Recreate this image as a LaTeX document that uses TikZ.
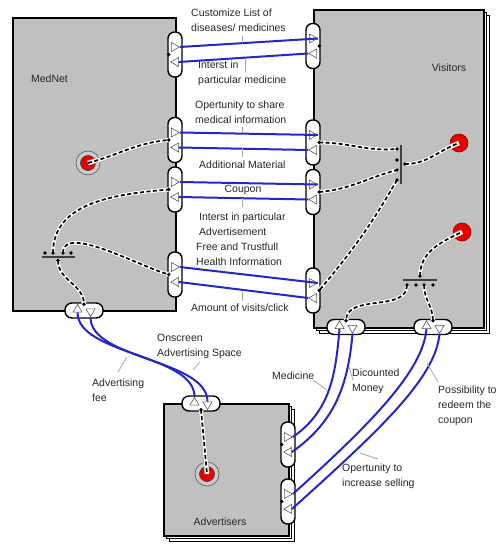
\documentclass[tikz,border=0pt]{standalone}
\usepackage{fontspec}
\setmainfont{Liberation Sans}
\usetikzlibrary{positioning,shapes.geometric,calc}
\definecolor{actorgray}{HTML}{C0C0C0}
\definecolor{msgblue}{HTML}{2626C8}
\definecolor{procred}{HTML}{E80000}
\definecolor{leadgray}{HTML}{A8A8A8}
\tikzset{
  actor/.style={draw, line width=1.6pt, fill=actorgray, anchor=north west, inner sep=0pt},
  sheet/.style={draw, line width=0.8pt, fill=white, anchor=north west, inner sep=0pt},
  vport/.style={draw, line width=1.4pt, fill=white, rounded corners=6.5pt, minimum width=14pt, minimum height=45pt, inner sep=0pt},
  hport/.style={draw, line width=1.4pt, fill=white, rounded corners=7pt, minimum width=38pt, minimum height=15pt, inner sep=0pt},
  tri/.style={regular polygon, regular polygon sides=3, draw=black!65, line width=0.6pt, minimum size=10.5pt, inner sep=0pt},
  triR/.style={tri, rotate=-90},
  triL/.style={tri, rotate=90},
  triU/.style={tri},
  triD/.style={tri, rotate=180},
  pdot/.style={circle, fill=black, inner sep=0pt, minimum size=3.8pt},
  msg/.style={draw=msgblue, line width=2pt},
  link/.style={preaction={draw=black!30, line width=5pt}, preaction={draw=white, line width=3.8pt}, draw=black, line width=1.7pt, dash pattern=on 4pt off 2.5pt},
  lead/.style={draw=leadgray, line width=0.8pt},
  lbl/.style={font=\fontsize{10.5}{15}\selectfont, text=black!85, inner sep=0pt, align=left, anchor=west},
  ring/.style={circle, draw=black!60, fill=black!20, line width=0.7pt, minimum size=24pt, inner sep=0pt},
  core/.style={circle, draw=black!70, fill=procred, line width=0.8pt, minimum size=15pt, inner sep=0pt},
  vcore/.style={circle, draw=procred!60!black, fill=procred, line width=0.6pt, minimum size=18pt, inner sep=0pt},
  junction/.style={draw=black!75, line width=1.2pt}
}

\begin{document}
\begin{tikzpicture}[x=1pt, y=1pt]
\useasboundingbox (0,0) rectangle (497,-548);
\node[actor, minimum width=163pt, minimum height=293pt] (mednet) at (12,-17) {};
\node[sheet, minimum width=170pt, minimum height=318pt] (visitors2) at (319,-15) {};
\node[sheet, minimum width=170pt, minimum height=318pt] (visitors1) at (316,-12) {};
\node[actor, minimum width=170pt, minimum height=318pt] (visitors) at (313,-9) {};
\node[sheet, minimum width=125pt, minimum height=132pt] (advert2) at (169,-409) {};
\node[sheet, minimum width=125pt, minimum height=132pt] (advert1) at (166,-406) {};
\node[actor, minimum width=125pt, minimum height=132pt] (advert) at (163,-403) {};
\node[lbl, anchor=center] (mednetlbl) at (49.5,-79) {MedNet};
\node[lbl, anchor=center] (visitorslbl) at (449,-68) {Visitors};
\node[lbl, anchor=center] (advertlbl) at (220,-522) {Advertisers};

\node[ring] (mring) at (88,-163) {};
\node[core] (mcirc) at (88,-163) {};
\node[ring] (aring) at (207,-474) {};
\node[core] (acirc) at (207,-474) {};
\node[vcore] (vcirc1) at (459,-143) {};
\node[vcore] (vcirc2) at (462,-232) {};

\node[vport] (mp1) at (175,-54.5) {};
\node[vport] (mp2) at (175,-140) {};
\node[vport] (mp3) at (175,-189.5) {};
\node[vport] (mp4) at (175,-274.5) {};
\node[vport] (vp1) at (313,-46) {};
\node[vport] (vp2) at (313,-142.5) {};
\node[vport] (vp3) at (313,-192) {};
\node[vport] (vp4) at (313,-290.5) {};
\node[vport] (ap1) at (288,-444.5) {};
\node[vport] (ap2) at (288,-501.5) {};
\node[hport] (mpb) at (84,-310.5) {};
\node[hport] (ap0) at (201,-403.5) {};
\node[hport] (vb1) at (346,-327) {};
\node[hport] (vb2) at (433,-327) {};
\foreach \p in {mp1,mp2,mp3,mp4,vp1,vp2,vp3,vp4,ap1,ap2} {
  \node[triR] (\p-a) at ([shift={(-1,7.5)}]\p.center) {};
  \node[triL] (\p-b) at ([shift={(1,-7.5)}]\p.center) {};
}
\foreach \p in {mpb,ap0,vb1,vb2} {
  \node[triU] (\p-a) at ([shift={(-6.5,1)}]\p.center) {};
  \node[triD] (\p-b) at ([shift={(6.5,-1)}]\p.center) {};
}

\foreach \p in {mp1,mp2,mp3,mp4}
  \coordinate (\p d) at ([xshift=1.5pt]\p.west);
\foreach \p in {vp1,vp2,vp3,vp4}
  \coordinate (\p d) at ([xshift=-1.5pt]\p.east);
\foreach \p in {ap1,ap2}
  \coordinate (\p d) at ([xshift=1.5pt]\p.west);
\foreach \p in {mpb,vb1,vb2}
  \coordinate (\p d) at ([yshift=-2pt]\p.north);
\coordinate (ap0d) at ([yshift=2pt]ap0.south);

\draw[junction] (42,-257) -- (75,-257);
\foreach \x [count=\i] in {45,53,63,71}
  \coordinate (mj\i) at (\x,-253);
\coordinate (mjo) at (58,-260.5);
\draw[junction] (401,-145) -- (401,-184);
\foreach \y [count=\i] in {149,160,170,180}
  \coordinate (vj\i) at (397,-\y);
\coordinate (vjo) at (405,-164);
\draw[junction] (403,-280) -- (437,-280);
\foreach \x [count=\i] in {407,416,424,433}
  \coordinate (lj\i) at (\x,-285);
\coordinate (ljo) at (420,-276);

\draw[link] (mcirc.center) to[out=15,in=185] (mp2d);
\draw[link] (mj2) to[out=90,in=185] (mp3d);
\draw[link] (mj3) to[out=90,in=165,looseness=0.7] (mp4d);
\draw[link] (mjo) to[out=-90,in=90] (mpbd);
\draw[link] (vp2d) to[out=0,in=185] (vj1);
\draw[link] (vp3d) to[out=5,in=195] (vj3);
\draw[link] (vj4) to[out=-120,in=50] (vp4d);
\draw[link] (vjo) to[out=0,in=200] (vcirc1.center);
\draw[link] (ljo) to[out=90,in=205] (vcirc2.center);
\draw[link] (lj1) to[out=-90,in=90] (vb1d);
\draw[link] (lj3) to[out=-90,in=90] (vb2d);
\draw[link] (ap0d) -- (acirc.center);

\foreach \d in {mp1d,mp2d,mp3d,mp4d,vp1d,vp2d,vp3d,vp4d,ap1d,ap2d,mpbd,vb1d,vb2d,ap0d,
    mj1,mj2,mj3,mj4,mjo,vj1,vj2,vj3,vj4,vjo,lj1,lj2,lj3,lj4,ljo}
  \node[pdot] at (\d) {};

\foreach \i in {1,...,4} {
  \draw[msg] (mp\i-a.corner 1) -- (vp\i-a.corner 1);
  \draw[msg] (vp\i-b.corner 1) -- (mp\i-b.side 2);
}
\draw[msg] (ap0-a.corner 1) to[out=90,in=-90,looseness=0.75] (mpb-a.side 2);
\draw[msg] (mpb-b.corner 1) to[out=-90,in=90,looseness=0.75] (ap0-b.side 2);
\draw[msg] (ap1-a.corner 1) to[out=35,in=-95] (vb1-a.side 2);
\draw[msg] (vb1-b.corner 1) to[out=-95,in=35] (ap1-b.side 2);
\draw[msg] (ap2-a.corner 1) to[out=42,in=-95,out looseness=1.3,in looseness=0.5] (vb2-a.side 2);
\draw[msg] (vb2-b.corner 1) to[out=-95,in=42,out looseness=0.5,in looseness=1.3] (ap2-b.side 2);

\node[lbl] (customize) at (191,-20.5) {Customize List of\\diseases/ medicines};
\node[lbl] (interstmed) at (198,-73.5) {Interst in\\particular medicine};
\node[lbl] (sharemed) at (195,-112.5) {Opertunity to share\\medical information};
\node[lbl] (additional) at (199,-165) {Additional Material};
\node[lbl, anchor=center] (coupon) at (243,-190) {Coupon};
\node[lbl] (interstadv) at (199,-224.5) {Interst in particular\\Advertisement};
\node[lbl] (freeinfo) at (196,-254.5) {Free and Trustfull\\Health Information};
\node[lbl] (visits) at (191,-308) {Amount of visits/click};
\node[lbl] (onscreen) at (157,-346.5) {Onscreen\\Advertising Space};
\node[lbl] (adfee) at (92,-390.5) {Advertising\\fee};
\node[lbl] (medicine) at (272,-376) {Medicine};
\node[lbl] (money) at (352,-381) {Dicounted\\Money};
\node[lbl] (redeem) at (438,-406) {Possibility to\\redeem the\\coupon};
\node[lbl] (selling) at (342,-476) {Opertunity to\\increase selling};

\draw[lead] (242,-36) -- (242,-43);
\draw[lead] (245,-59) -- (245,-72);
\draw[lead] (242,-127) -- (242,-133);
\draw[lead] (242,-148) -- (242,-157);
\draw[lead] (242,-198) -- (242,-207);
\draw[lead] (242,-292) -- (242,-301);
\draw[lead] (193,-370) -- (200,-362);
\draw[lead] (118,-372) -- (127,-357);
\draw[lead] (313,-380) -- (327,-390);
\draw[lead] (349,-367) -- (353,-380);
\draw[lead] (427,-363) -- (438,-382);
\draw[lead] (360,-453) -- (378,-459);
\end{tikzpicture}
\end{document}
